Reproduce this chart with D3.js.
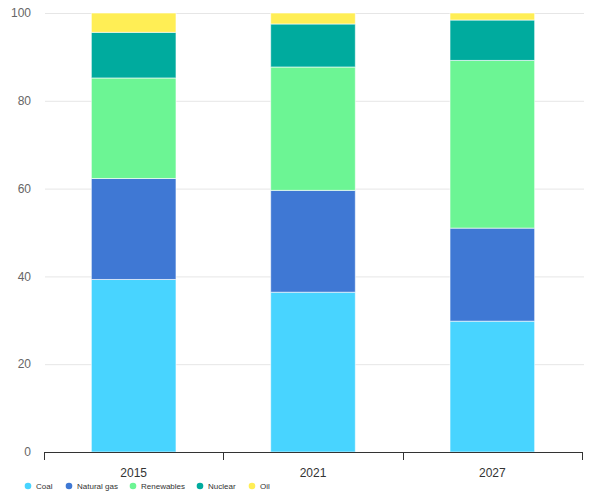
<!DOCTYPE html>
<html>
<head>
<meta charset="utf-8">
<script src="https://cdn.jsdelivr.net/npm/d3@7"></script>
<style>
  html, body { margin: 0; padding: 0; background: #fff; }
  svg { display: block; font-family: "Helvetica", "Liberation Sans", Arial, sans-serif; }
</style>
</head>
<body>
<svg id="chart" width="600" height="500"></svg>
<script>
const years = ["2015", "2021", "2027"];
const seriesNames = ["Coal", "Natural gas", "Renewables", "Nuclear", "Oil"];
const coal = [39.3, 36.4, 29.8];
const naturalGas = [23.0, 23.2, 21.2];
const renewables = [22.9, 28.1, 38.2];
const nuclear = [10.4, 9.8, 9.2];
const oil = [4.4, 2.5, 1.6];
const colors = ["#48d4ff", "#3f78d4", "#6cf594", "#00ab9e", "#ffee55"];
const yTicks = [0, 20, 40, 60, 80, 100];

const svg = d3.select("#chart");
const margin = { left: 44, right: 18, top: 13, bottom: 48 };
const W = 600, H = 500;

const x = d3.scaleBand().domain(years).range([margin.left, W - margin.right]).padding(0);
const y = d3.scaleLinear().domain([0, 100]).range([H - margin.bottom, margin.top]);

const rows = years.map((yr, i) => ({
  year: yr,
  "Coal": coal[i], "Natural gas": naturalGas[i], "Renewables": renewables[i],
  "Nuclear": nuclear[i], "Oil": oil[i]
}));
const stacked = d3.stack().keys(seriesNames)(rows);

// gridlines
svg.append("g").selectAll("line").data(yTicks.filter(t => t > 0)).join("line")
  .attr("x1", margin.left + 1).attr("x2", W - margin.right + 2)
  .attr("y1", d => y(d) + 0.5).attr("y2", d => y(d) + 0.5)
  .attr("stroke", "#e6e6e6").attr("stroke-width", 1);

// y labels
svg.append("g").selectAll("text").data(yTicks).join("text")
  .attr("x", 31).attr("y", d => y(d)).attr("dy", "0.35em")
  .attr("text-anchor", "end").attr("fill", "#666").attr("font-size", 12)
  .text(d => d);

const barFrac = 0.472;
const bw = x.bandwidth() * barFrac;

svg.append("g").selectAll("g").data(stacked).join("g")
  .attr("fill", (d, i) => colors[i])
  .selectAll("rect").data(d => d).join("rect")
  .attr("x", d => x(d.data.year) + (x.bandwidth() - bw) / 2)
  .attr("width", bw)
  .attr("y", d => y(d[1]))
  .attr("height", d => y(d[0]) - y(d[1]))
  .attr("stroke", "#ffffff").attr("stroke-opacity", 0.6).attr("stroke-width", 1);

// x axis
const axisG = svg.append("g").attr("transform", `translate(0,${y(0)})`);
axisG.append("line").attr("x1", x.range()[0]).attr("x2", x.range()[1])
  .attr("y1", 0.5).attr("y2", 0.5).attr("stroke", "#333");
const edges = years.map(yv => x(yv)).concat([x.range()[1]]);
axisG.selectAll("line.tick").data(edges).join("line").attr("class", "tick")
  .attr("x1", d => Math.round(d) + 0.5).attr("x2", d => Math.round(d) + 0.5)
  .attr("y1", 0).attr("y2", 8).attr("stroke", "#333");
axisG.selectAll("text").data(years).join("text")
  .attr("x", d => x(d) + x.bandwidth() / 2).attr("y", 16).attr("dy", "0.71em")
  .attr("text-anchor", "middle").attr("fill", "#333").attr("font-size", 12)
  .text(d => d);

// legend
const legendX = [28, 69, 133, 200, 252];
const lg = svg.append("g").attr("transform", "translate(0,486)");
const items = lg.selectAll("g").data(seriesNames).join("g")
  .attr("transform", (d, i) => `translate(${legendX[i]},0)`);
items.append("circle").attr("r", 3.3).attr("fill", (d, i) => colors[i]);
items.append("text").attr("x", 8).attr("dy", "0.35em")
  .attr("font-size", 8).attr("fill", "#333").text(d => d);
</script>
</body>
</html>
